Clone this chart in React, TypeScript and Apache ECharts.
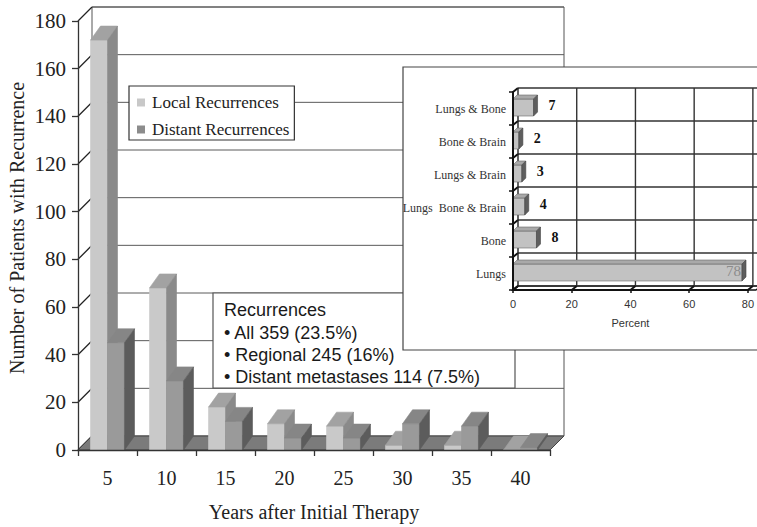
import React, { useEffect, useRef } from "react";
import * as echarts from "echarts";

// Recurrences per 5-year interval after initial therapy
const years = ["5", "10", "15", "20", "25", "30", "35", "40"];
const localRecurrences = [172, 68, 18, 11, 10, 2, 2, 0];
const distantRecurrences = [45, 29, 12, 5, 5, 11, 10, 1];
const countTicks = [0, 20, 40, 60, 80, 100, 120, 140, 160, 180];

// Sites of distant metastases (percent)
const metastasisSites = ["Lungs", "Bone", "Lungs  Bone & Brain", "Lungs & Brain", "Bone & Brain", "Lungs & Bone"];
const metastasisPercent = [78, 8, 4, 3, 2, 7];
const percentTicks = [0, 20, 40, 60, 80];

const recurrenceNotes = ["Recurrences", "• All 359 (23.5%)", "• Regional 245 (16%)", "• Distant metastases 114 (7.5%)"];

const SERIF = "'Liberation Serif', 'Times New Roman', serif";
const SANS = "'Liberation Sans', Arial, sans-serif";

// 3D depth offsets [dx, dy]
const WALL = [14, -14];
const BAR = [10, -14];
const INSET_WALL = [5, -4];
const INSET_BAR = [4, -4];

const LOCAL_COLORS = { front: "#c9c9c9", top: "#a2a2a2", side: "#8a8a8a" };
const DISTANT_COLORS = { front: "#9a9a9a", top: "#868686", side: "#5c5c5c" };

function poly(points: number[][], fill: string, stroke?: string, lw = 0.6) {
  return { type: "polygon", shape: { points }, style: { fill, stroke: stroke || fill, lineWidth: lw } };
}

function line(x1: number, y1: number, x2: number, y2: number, stroke: string, lineWidth: number) {
  return { type: "line", shape: { x1, y1, x2, y2 }, style: { stroke, lineWidth } };
}

// back wall, left wall diagonals and floor of the main chart
function renderMainFrame(params: any, api: any) {
  const cs = params.coordSys;
  const [dx, dy] = WALL;
  const left = cs.x;
  const right = cs.x + cs.width;
  const top = cs.y;
  const bottom = cs.y + cs.height;
  const children: any[] = [];
  children.push(poly([[left + dx, top + dy], [right + dx, top + dy], [right + dx, bottom + dy], [left + dx, bottom + dy]], "#ffffff", "#555555", 1));
  countTicks.forEach((v) => {
    const y = api.coord([0, v])[1];
    if (v > 0) children.push(line(left + dx, y + dy, right + dx, y + dy, "#5a5a5a", 1));
    children.push(line(left, y, left + dx, y + dy, "#222222", 1.3));
  });
  children.push(poly([[left, bottom], [right, bottom], [right + dx, bottom + dy], [left + dx, bottom + dy]], "#7b7b7b", "#444444", 1));
  return { type: "group", children };
}

function makeBarRenderer(side: number, colors: any) {
  return (params: any, api: any) => {
    const idx = api.value(0);
    const val = api.value(1);
    const [cx, y1] = api.coord([idx, val]);
    const y0 = api.coord([idx, 0])[1];
    const bw = api.size([1, 0])[0] * 0.288;
    const x0 = side < 0 ? cx - bw : cx;
    const x1 = x0 + bw;
    const [dx, dy] = BAR;
    return {
      type: "group",
      children: [
        poly([[x0, y0], [x1, y0], [x1, y1], [x0, y1]], colors.front),
        poly([[x0, y1], [x1, y1], [x1 + dx, y1 + dy], [x0 + dx, y1 + dy]], colors.top),
        poly([[x1, y0], [x1 + dx, y0 + dy], [x1 + dx, y1 + dy], [x1, y1]], colors.side),
      ],
    };
  };
}

// walls and grid of the inset bar chart
function renderInsetFrame(params: any, api: any) {
  const cs = params.coordSys;
  const [dx, dy] = INSET_WALL;
  const left = cs.x;
  const right = cs.x + cs.width;
  const top = cs.y;
  const bottom = cs.y + cs.height;
  const band = cs.height / metastasisSites.length;
  const children: any[] = [];
  children.push(poly([[left, bottom], [right + 8, bottom], [right + 8 + dx, bottom + dy], [left + dx, bottom + dy]], "#ffffff", "#111111", 1.5));
  for (let k = 0; k <= metastasisSites.length; k++) {
    const y = top + k * band;
    children.push(line(left + dx, y + dy, right + 20, y + dy, "#333333", 1.4));
    children.push(line(left, y, left + dx, y + dy, "#111111", 2));
  }
  children.push(line(left + dx, top + dy, left + dx, bottom + dy, "#222222", 1.4));
  percentTicks.forEach((v) => {
    const x = api.coord([v, 0])[0];
    if (v > 0) children.push(line(x + dx, top + dy, x + dx, bottom + dy, "#333333", 1.4));
    children.push(line(x, bottom, x + dx, bottom + dy, "#111111", 2));
  });
  return { type: "group", children };
}

function renderInsetBar(params: any, api: any) {
  const val = api.value(0);
  const cat = api.value(1);
  const [x0, cy] = api.coord([0, cat]);
  const x1 = api.coord([val, cat])[0];
  const h = 17;
  const y0 = cy - h / 2 - 1;
  const y1 = y0 + h;
  const [dx, dy] = INSET_BAR;
  const inside = val > 50;
  return {
    type: "group",
    children: [
      poly([[x0, y1], [x1, y1], [x1, y0], [x0, y0]], "#c2c2c2", "#6a6a6a", 0.6),
      poly([[x0, y0], [x1, y0], [x1 + dx, y0 + dy], [x0 + dx, y0 + dy]], "#a9a9a9", "#6a6a6a", 0.6),
      poly([[x1, y1], [x1 + dx, y1 + dy], [x1 + dx, y0 + dy], [x1, y0]], "#5e5e5e", "#444444", 0.6),
      {
        type: "text",
        x: inside ? x1 - 1 : x1 + dx + 11,
        y: cy - 3,
        style: {
          text: String(val),
          font: inside ? `15px ${SERIF}` : `bold 14px ${SERIF}`,
          fill: inside ? "#8c8c8c" : "#111111",
          textAlign: inside ? "right" : "left",
          textVerticalAlign: "middle",
        },
      },
    ],
  };
}

export default function App() {
  const ref = useRef<HTMLDivElement>(null);

  useEffect(() => {
    if (!ref.current) return;
    const chart = echarts.init(ref.current, undefined, { renderer: "svg" });
    const option: any = {
      animation: false,
      backgroundColor: "#ffffff",
      grid: [
        { left: 78, top: 21, width: 472, height: 435 },
        { left: 513, top: 92, width: 240, height: 198 },
      ],
      legend: {
        left: 129,
        top: 86,
        orient: "vertical",
        backgroundColor: "#ffffff",
        borderColor: "#333333",
        borderWidth: 1.2,
        borderRadius: 0,
        padding: [8, 5, 2, 8],
        itemGap: 10,
        itemWidth: 8,
        itemHeight: 8,
        icon: "rect",
        selectedMode: false,
        z: 4,
        textStyle: { fontFamily: SERIF, fontSize: 17, color: "#222222", padding: [0, 0, 0, 2] },
        data: [
          { name: "Local Recurrences", itemStyle: { color: "#c8c8c8" } },
          { name: "Distant Recurrences", itemStyle: { color: "#8c8c8c" } },
        ],
      },
      xAxis: [
        {
          type: "category",
          gridIndex: 0,
          data: years,
          z: 3,
          axisLine: { show: true, lineStyle: { color: "#333333", width: 1.3 } },
          axisTick: { show: true, length: 6, lineStyle: { color: "#333333", width: 1.3 } },
          axisLabel: { fontFamily: SERIF, fontSize: 20, color: "#222222", margin: 18 },
          splitLine: { show: false },
          name: "Years after Initial Therapy",
          nameLocation: "middle",
          nameGap: 52,
          nameTextStyle: { fontFamily: SERIF, fontSize: 20, color: "#222222" },
        },
        {
          type: "value",
          gridIndex: 1,
          min: 0,
          max: 80,
          interval: 20,
          z: 8,
          axisLine: { show: true, lineStyle: { color: "#111111", width: 2 } },
          axisTick: { show: true, length: 3, lineStyle: { color: "#111111", width: 1.5 } },
          axisLabel: { fontFamily: SANS, fontSize: 11, color: "#333333", margin: 8 },
          splitLine: { show: false },
          name: "Percent",
          nameLocation: "middle",
          nameGap: 27,
          nameTextStyle: { fontFamily: SANS, fontSize: 11, color: "#333333" },
        },
      ],
      yAxis: [
        {
          type: "value",
          gridIndex: 0,
          min: 0,
          max: 180,
          interval: 20,
          z: 3,
          axisLine: { show: true, lineStyle: { color: "#333333", width: 1.3 } },
          axisTick: { show: true, length: 6, lineStyle: { color: "#333333", width: 1.3 } },
          axisLabel: { fontFamily: SERIF, fontSize: 21, color: "#222222", margin: 12 },
          splitLine: { show: false },
        },
        {
          type: "category",
          gridIndex: 1,
          data: metastasisSites,
          z: 8,
          axisLine: { show: true, lineStyle: { color: "#111111", width: 2 } },
          axisTick: { show: true, length: 4, lineStyle: { color: "#111111", width: 1.5 } },
          axisLabel: { fontFamily: SERIF, fontSize: 12, color: "#333333", margin: 7 },
          splitLine: { show: false },
        },
      ],
      series: [
        {
          type: "custom",
          name: "frame",
          xAxisIndex: 0,
          yAxisIndex: 0,
          z: 1,
          silent: true,
          clip: false,
          renderItem: renderMainFrame,
          data: [[0, 0]],
        },
        {
          type: "custom",
          name: "Local Recurrences",
          xAxisIndex: 0,
          yAxisIndex: 0,
          z: 2,
          clip: false,
          itemStyle: { color: "#c8c8c8" },
          renderItem: makeBarRenderer(-1, LOCAL_COLORS),
          data: years.map((_, i) => [i, localRecurrences[i]]),
        },
        {
          type: "custom",
          name: "Distant Recurrences",
          xAxisIndex: 0,
          yAxisIndex: 0,
          z: 3,
          clip: false,
          itemStyle: { color: "#8c8c8c" },
          renderItem: makeBarRenderer(1, DISTANT_COLORS),
          data: years.map((_, i) => [i, distantRecurrences[i]]),
        },
        {
          type: "custom",
          name: "insetFrame",
          xAxisIndex: 1,
          yAxisIndex: 1,
          z: 6,
          silent: true,
          clip: false,
          renderItem: renderInsetFrame,
          data: [[0, 0]],
        },
        {
          type: "custom",
          name: "sites",
          xAxisIndex: 1,
          yAxisIndex: 1,
          z: 7,
          clip: false,
          renderItem: renderInsetBar,
          data: metastasisPercent.map((v, i) => [v, i]),
        },
      ],
      graphic: [
        {
          type: "text",
          x: 17,
          y: 228,
          rotation: Math.PI / 2,
          z: 3,
          style: {
            text: "Number of Patients with Recurrence",
            font: `20px ${SERIF}`,
            fill: "#222222",
            textAlign: "center",
            textVerticalAlign: "middle",
          },
        },
        {
          type: "group",
          z: 4,
          children: [
            {
              type: "rect",
              z: 4,
              shape: { x: 213, y: 293, width: 302, height: 95 },
              style: { fill: "#ffffff", stroke: "#555555", lineWidth: 1.2 },
            },
            ...recurrenceNotes.map((t, i) => ({
              type: "text",
              z: 4,
              x: 224,
              y: [310, 333, 355, 377][i],
              style: { text: t, font: `18px ${SANS}`, fill: "#1a1a1a", textAlign: "left", textVerticalAlign: "middle" },
            })),
          ],
        },
        {
          type: "rect",
          z: 5,
          shape: { x: 403, y: 67, width: 420, height: 283 },
          style: { fill: "#ffffff", stroke: "#444444", lineWidth: 1.2 },
        },
      ],
    };
    chart.setOption(option);
    return () => chart.dispose();
  }, []);

  return <div ref={ref} style={{ position: "fixed", left: 0, top: 0, width: 757, height: 527 }} />;
}
